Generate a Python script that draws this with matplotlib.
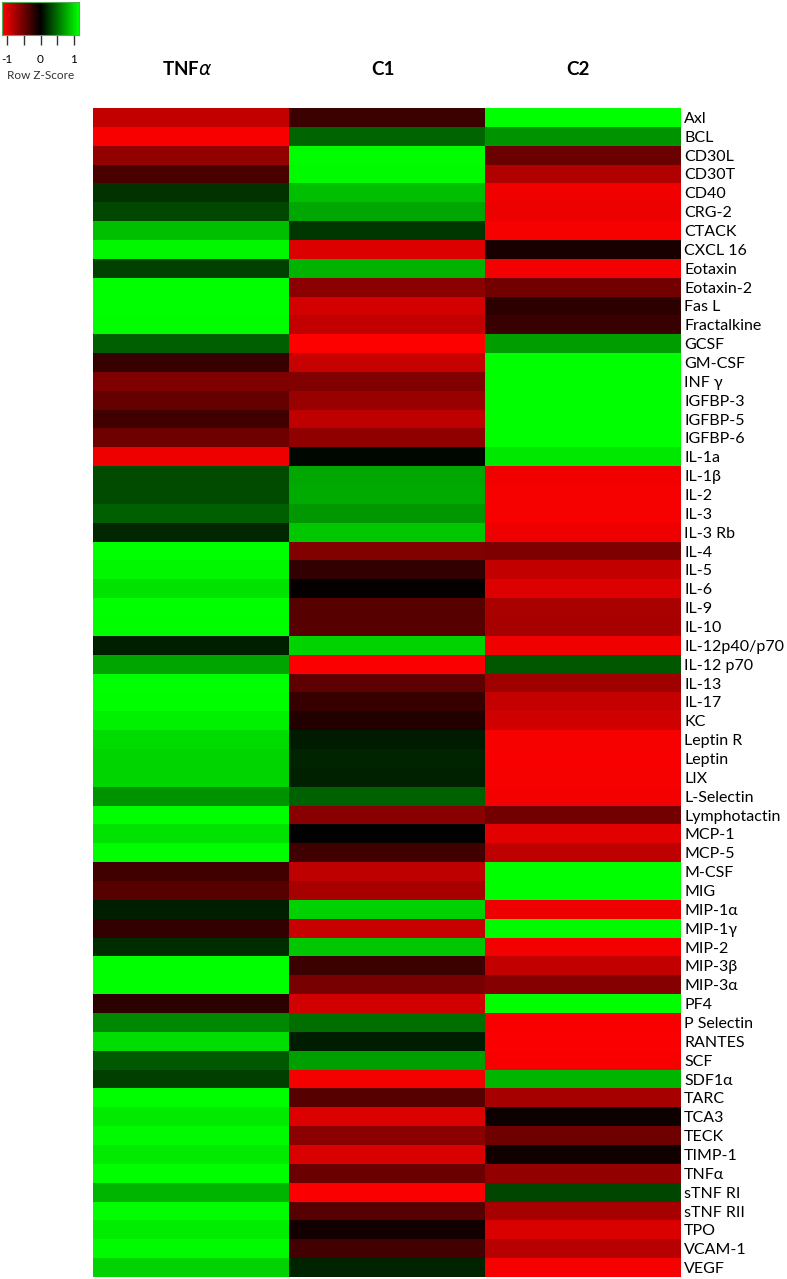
import numpy as np
import matplotlib
matplotlib.use('Agg')
import matplotlib.pyplot as plt
from matplotlib.colors import LinearSegmentedColormap

# row z-scores (columns: TNFα, C1, C2)
cytokines = ['Axl', 'BCL', 'CD30L', 'CD30T', 'CD40', 'CRG-2', 'CTACK', 'CXCL 16', 'Eotaxin',
             'Eotaxin-2', 'Fas L', 'Fractalkine', 'GCSF', 'GM-CSF', 'INF γ', 'IGFBP-3', 'IGFBP-5',
             'IGFBP-6', 'IL-1a', 'IL-1β', 'IL-2', 'IL-3', 'IL-3 Rb', 'IL-4', 'IL-5', 'IL-6', 'IL-9',
             'IL-10', 'IL-12p40/p70', 'IL-12 p70', 'IL-13', 'IL-17', 'KC', 'Leptin R', 'Leptin', 'LIX',
             'L-Selectin', 'Lymphotactin', 'MCP-1', 'MCP-5', 'M-CSF', 'MIG', 'MIP-1α', 'MIP-1γ',
             'MIP-2', 'MIP-3β', 'MIP-3α', 'PF4', 'P Selectin', 'RANTES', 'SCF', 'SDF1α', 'TARC',
             'TCA3', 'TECK', 'TIMP-1', 'TNFα', 'sTNF RI', 'sTNF RII', 'TPO', 'VCAM-1', 'VEGF']
groups = ['TNF$\\alpha$', 'C1', 'C2']

z_tnf = [-0.88, -1.12, -0.66, -0.33, 0.23, 0.32, 0.86, 1.11, 0.29,
         1.15, 1.15, 1.14, 0.43, -0.25, -0.57, -0.46, -0.29,
         -0.50, -1.08, 0.34, 0.34, 0.43, 0.18, 1.155, 1.11, 1.02, 1.15,
         1.14, 0.14, 0.74, 1.15, 1.14, 1.09, 0.99, 0.96, 0.96,
         0.66, 1.14, 1.02, 1.14, -0.29, -0.39, 0.14, -0.23,
         0.20, 1.15, 1.15, -0.20, 0.62, 1.00, 0.40, 0.28, 1.14,
         1.06, 1.13, 1.06, 1.14, 0.82, 1.14, 1.07, 1.13, 0.95]
z_c1 = [-0.27, 0.46, 1.14, 1.13, 0.86, 0.75, 0.25, -1.00, 0.81,
        -0.63, -0.95, -0.88, -1.14, -0.90, -0.58, -0.69, -0.86,
        -0.65, 0.03, 0.75, 0.77, 0.68, 0.90, -0.58, -0.23, -0.02, -0.39,
        -0.39, 0.95, -1.13, -0.43, -0.25, -0.16, 0.12, 0.16, 0.15,
        0.44, -0.62, 0.00, -0.29, -0.86, -0.75, 0.94, -0.90,
        0.90, -0.27, -0.55, -0.94, 0.50, 0.13, 0.72, -1.10, -0.39,
        -1.00, -0.63, -0.98, -0.48, -1.13, -0.39, -0.09, -0.30, 0.16]
z_c2 = [1.15, 0.66, -0.48, -0.80, -1.09, -1.07, -1.11, -0.11, -1.10,
        -0.52, -0.20, -0.26, 0.71, 1.15, 1.15, 1.15, 1.15,
        1.15, 1.05, -1.09, -1.11, -1.11, -1.08, -0.575, -0.88, -1.00, -0.76,
        -0.75, -1.09, 0.39, -0.72, -0.89, -0.93, -1.11, -1.12, -1.11,
        -1.10, -0.52, -1.02, -0.85, 1.15, 1.14, -1.08, 1.13,
        -1.10, -0.88, -0.60, 1.14, -1.12, -1.13, -1.12, 0.82, -0.75,
        -0.06, -0.50, -0.08, -0.66, 0.31, -0.75, -0.98, -0.83, -1.11]

data = np.column_stack([z_tnf, z_c1, z_c2])
zmax = 1.155
cmap = LinearSegmentedColormap.from_list('redgreen', ['#ff0000', '#000000', '#00ff00'])

plt.rcParams['font.family'] = ['Lato', 'DejaVu Sans']
fig = plt.figure(figsize=(7.87, 12.79), dpi=100)

# main heatmap
ax = fig.add_axes([93 / 787, 2 / 1279, 587 / 787, 1169 / 1279])
ax.imshow(data, cmap=cmap, vmin=-zmax, vmax=zmax, aspect='auto', interpolation='nearest')
ax.set_xticks([])
ax.yaxis.tick_right()
ax.set_yticks(range(len(cytokines)))
ax.set_yticklabels(cytokines, fontsize=11.5)
ax.tick_params(axis='y', length=0, pad=3)
for s in ax.spines.values():
    s.set_visible(False)
for i, g in enumerate(groups):
    ax.text(i - 0.02, -2.55, g, ha='center', va='center', fontsize=13.5, fontweight='bold')

# colour key
kax = fig.add_axes([2 / 787, 1244 / 1279, 77 / 787, 33 / 1279])
grad = np.linspace(-zmax, zmax, 256)[None, :]
kax.imshow(grad, cmap=cmap, vmin=-zmax, vmax=zmax, aspect='auto',
           extent=[-zmax, zmax, 0, 1])
kax.set_yticks([])
kax.set_xticks([-1, 0, 1])
kax.set_xticklabels(['-1', '0', '1'], fontsize=8.5)
kax.set_xticks([-0.5, 0.5], minor=True)
kax.tick_params(axis='x', which='both', length=7, width=1, color='#333333', pad=7)
kax.set_xlabel('Row Z-Score', fontsize=8.5, color='#333333', labelpad=3)
for s in kax.spines.values():
    s.set_color('#55aa55')
    s.set_linewidth(0.8)

fig.savefig('out.png', dpi=100)
